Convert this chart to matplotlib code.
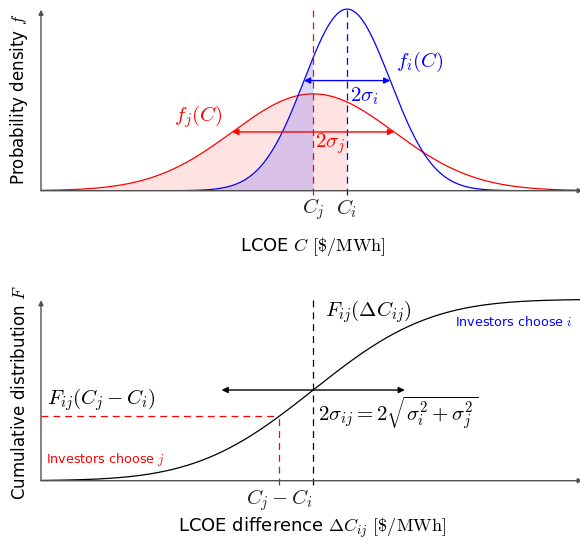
import math
import numpy as np
import matplotlib
matplotlib.use("Agg")
import matplotlib.pyplot as plt

plt.rcParams['mathtext.fontset'] = 'cm'
plt.rcParams['font.family'] = ['DejaVu Sans']

# ---- data (abstract LCOE units) ----
C_i = 5.68
C_j = 5.05
sigma_i = 0.80
sigma_j = 1.50
x_range = [0.0, 10.0]
dC_range = [-5.05, 4.95]
sigma_ij = math.sqrt(sigma_i**2 + sigma_j**2)
dC_point = C_j - C_i

W, H = 580, 543
fig = plt.figure(figsize=(W / 100, H / 100), dpi=100)


def pdf(x, m, s):
    return np.exp(-0.5 * ((x - m) / s) ** 2) / (s * math.sqrt(2 * math.pi))


_erf = np.vectorize(math.erf)


def cdf(x, m, s):
    return 0.5 * (1 + _erf((x - m) / (s * math.sqrt(2))))


def px_axes(left, top, right, bottom):
    return fig.add_axes([left / W, 1 - bottom / H, (right - left) / W, (bottom - top) / H])


def ftext(x, y, s, **kw):
    fig.text(x / W, 1 - y / H, s, **kw)


AXC = '#505050'
ARW = dict(arrowstyle='-|>', color=AXC, lw=1.0, mutation_scale=7, shrinkA=0, shrinkB=0)
DBL = dict(arrowstyle='<|-|>', lw=1.0, mutation_scale=9, shrinkA=0, shrinkB=0)
DASH = (0, (5.5, 4))

# ================= TOP PANEL =================
ax1 = px_axes(41, 5, 580, 190.7)
ax1.set_xlim(x_range)
ax1.set_ylim(0, 0.51)
ax1.set_axis_off()

x = np.linspace(x_range[0], x_range[1], 1200)
fi = pdf(x, C_i, sigma_i)
fj = pdf(x, C_j, sigma_j)

ax1.fill_between(x, 0, fj, where=x <= C_i, color='red', alpha=0.11, lw=0)
ax1.fill_between(x, 0, fi, where=x <= C_j, color='blue', alpha=0.15, lw=0)
ax1.plot(x, fj, color='red', lw=0.9)
ax1.plot(x, fi, color='blue', lw=0.9)

ytop = 0.505
ax1.plot([C_j, C_j], [-0.012, ytop], color='red', lw=0.9, ls=DASH, clip_on=False)
ax1.plot([C_i, C_i], [-0.012, ytop], color='blue', lw=0.9, ls=DASH, clip_on=False)

# axes
ax1.annotate('', xy=(x_range[1] + 0.05, 0), xytext=(x_range[0], 0), arrowprops=ARW, annotation_clip=False)
ax1.annotate('', xy=(0, 0.497), xytext=(0, 0), arrowprops=ARW, annotation_clip=False)

# sigma arrows
hi = pdf(C_i + sigma_i, C_i, sigma_i)
ax1.annotate('', xy=(C_i + sigma_i, hi), xytext=(C_i - sigma_i, hi),
             arrowprops=dict(DBL, color='blue'))
hj = pdf(C_j + sigma_j, C_j, sigma_j)
ax1.annotate('', xy=(C_j + sigma_j, hj), xytext=(C_j - sigma_j, hj),
             arrowprops=dict(DBL, color='red'))

MS = 15
LS = 13
ftext(420, 62, r'$f_i(C)$', color='blue', fontsize=MS, ha='center', va='center')
ftext(350, 96, r'$2\sigma_i$', color='blue', fontsize=MS, ha='left', va='center')
ftext(198, 117, r'$f_j(C)$', color='red', fontsize=MS, ha='center', va='center')
ftext(315, 144, r'$2\sigma_j$', color='red', fontsize=MS, ha='left', va='center')
ftext(313, 209, r'$C_j$', color='#222222', fontsize=MS, ha='center', va='center')
ftext(347, 209, r'$C_i$', color='#222222', fontsize=MS, ha='center', va='center')
ftext(313, 246, r'LCOE $C$ $[\$/\mathrm{MWh}]$', fontsize=LS, ha='center', va='center')
ftext(19, 99, r'Probability density $f$', fontsize=12, ha='center', va='center', rotation=90)

# ================= BOTTOM PANEL =================
ax2 = px_axes(41, 295.7, 580, 480.7)
ax2.set_xlim(dC_range)
ax2.set_ylim(0, 1.02)
ax2.set_axis_off()

d = np.linspace(dC_range[0], dC_range[1], 1200)
F = cdf(d, 0.0, sigma_ij)
ax2.plot(d, F, color='black', lw=0.9)

Fp = float(cdf(np.array([dC_point]), 0.0, sigma_ij)[0])
ax2.plot([0, 0], [-0.025, 1.005], color='black', lw=0.9, ls=DASH, clip_on=False)
ax2.plot([dC_point, dC_point], [-0.025, Fp], color='red', lw=0.9, ls=DASH, clip_on=False)
ax2.plot([dC_range[0], dC_point], [Fp, Fp], color='red', lw=0.9, ls=DASH)

ax2.annotate('', xy=(dC_range[1] + 0.05, 0), xytext=(dC_range[0], 0), arrowprops=ARW, annotation_clip=False)
ax2.annotate('', xy=(dC_range[0], 0.995), xytext=(dC_range[0], 0), arrowprops=ARW, annotation_clip=False)

ax2.annotate('', xy=(sigma_ij, 0.5), xytext=(-sigma_ij, 0.5),
             arrowprops=dict(DBL, color='black'))

ftext(325, 312, r'$F_{ij}(\Delta C_{ij})$', fontsize=MS, ha='left', va='center')
ftext(455, 322, r'Investors choose $i$', color='blue', fontsize=9.2, ha='left', va='center')
ftext(47, 400, r'$F_{ij}(C_j - C_i)$', fontsize=MS, ha='left', va='center')
ftext(46, 459, r'Investors choose $j$', color='red', fontsize=9.2, ha='left', va='center')
ftext(318, 413, r'$2\sigma_{ij} = 2\sqrt{\sigma_i^2 + \sigma_j^2}$', fontsize=MS, ha='left', va='center')
ftext(279, 500, r'$C_j - C_i$', color='#222222', fontsize=MS, ha='center', va='center')
ftext(312, 528, r'LCOE difference $\Delta C_{ij}$ $[\$/\mathrm{MWh}]$', fontsize=LS, ha='center', va='center')
ftext(20, 393, r'Cumulative distribution $F$', fontsize=12, ha='center', va='center', rotation=90)

fig.savefig('out.png', dpi=100)
